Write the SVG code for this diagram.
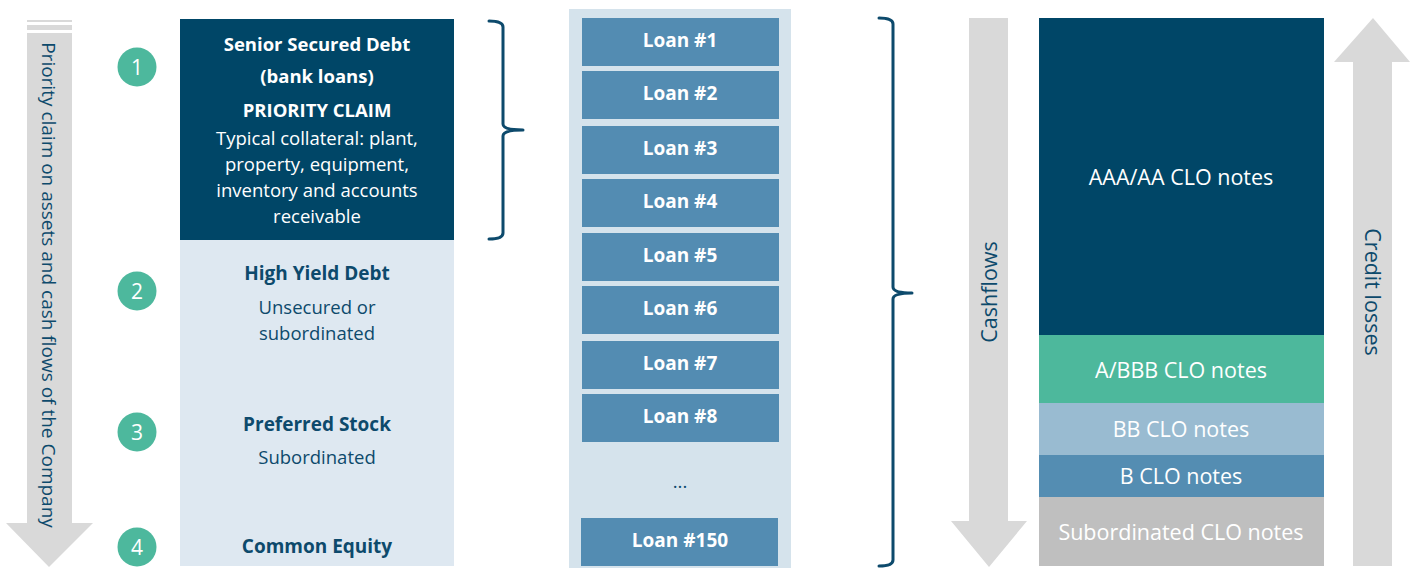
<svg xmlns="http://www.w3.org/2000/svg" width="1415" height="568" viewBox="0 0 1415 568">
<style>
text{font-family:"Open Sans","Noto Sans","Liberation Sans",sans-serif;}
.w{fill:#ffffff;}
.d{fill:#0d4a6c;}
.b{font-weight:bold;}
.t18{font-size:18.5px;}
.h{font-size:19px;}
.t19{font-size:19px;}
.t21{font-size:21px;}
.t22{font-size:21.5px;}
.c{text-anchor:middle;}
.arrow{fill:#d9d9d9;}
.loan{fill:#538cb2;}
.circ{fill:#4db89d;}
.brace{fill:none;stroke:#0d4a6c;stroke-width:3;stroke-linejoin:round;stroke-linecap:round;}
</style>
<rect width="1415" height="568" fill="#ffffff"/>

<g id="priority-arrow">
<rect x="27" y="20" width="45" height="2" class="arrow"/>
<rect x="27" y="25" width="45" height="5" class="arrow"/>
<polygon points="27,33 72,33 72,523 93,523 49,567 6,523 27,523" class="arrow"/>
<text class="d t19 c" transform="translate(42,285) rotate(90)">Priority claim on assets and cash flows of the Company</text>
</g>

<g id="circle-1"><circle cx="137" cy="67" r="19.5" class="circ"/><text x="137" y="74.5" class="w t21 c">1</text></g>
<g id="circle-2"><circle cx="137" cy="291" r="19.5" class="circ"/><text x="137" y="298.5" class="w t21 c">2</text></g>
<g id="circle-3"><circle cx="137" cy="432" r="19.5" class="circ"/><text x="137" y="439.5" class="w t21 c">3</text></g>
<g id="circle-4"><circle cx="137" cy="547" r="19.5" class="circ"/><text x="137" y="554.5" class="w t21 c">4</text></g>

<g id="senior-secured">
<rect x="180" y="19" width="274" height="221" fill="#004667"/>
<text x="317" y="51" class="w b t18 c">Senior Secured Debt</text>
<text x="317" y="83" class="w b t18 c">(bank loans)</text>
<text x="317" y="117" class="w b t18 c">PRIORITY CLAIM</text>
<text x="317" y="145" class="w t18 c">Typical collateral: plant,</text>
<text x="317" y="171" class="w t18 c">property, equipment,</text>
<text x="317" y="197" class="w t18 c">inventory and accounts</text>
<text x="317" y="223" class="w t18 c">receivable</text>
</g>

<g id="junior-capital">
<rect x="180" y="240" width="274" height="326" fill="#dee8f1"/>
<text x="317" y="280" class="d b h c">High Yield Debt</text>
<text x="317" y="314" class="d t18 c">Unsecured or</text>
<text x="317" y="340" class="d t18 c">subordinated</text>
<text x="317" y="431" class="d b h c">Preferred Stock</text>
<text x="317" y="464" class="d t18 c">Subordinated</text>
<text x="317" y="553" class="d b h c">Common Equity</text>
</g>

<g id="loan-pool">
<rect x="569" y="9" width="222" height="559" fill="#d5e3ec"/>
<g id="loan-1"><rect x="582" y="18" width="197" height="48" class="loan"/><text x="680" y="47" class="w b t19 c">Loan #1</text></g>
<g id="loan-2"><rect x="582" y="71" width="197" height="48" class="loan"/><text x="680" y="100" class="w b t19 c">Loan #2</text></g>
<g id="loan-3"><rect x="582" y="126" width="197" height="48" class="loan"/><text x="680" y="155" class="w b t19 c">Loan #3</text></g>
<g id="loan-4"><rect x="582" y="179" width="197" height="48" class="loan"/><text x="680" y="208" class="w b t19 c">Loan #4</text></g>
<g id="loan-5"><rect x="582" y="233" width="197" height="48" class="loan"/><text x="680" y="262" class="w b t19 c">Loan #5</text></g>
<g id="loan-6"><rect x="582" y="286" width="197" height="48" class="loan"/><text x="680" y="315" class="w b t19 c">Loan #6</text></g>
<g id="loan-7"><rect x="582" y="341" width="197" height="48" class="loan"/><text x="680" y="370" class="w b t19 c">Loan #7</text></g>
<g id="loan-8"><rect x="582" y="394" width="197" height="48" class="loan"/><text x="680" y="423" class="w b t19 c">Loan #8</text></g>
<text x="680" y="488" class="d t18 c">...</text>
<g id="loan-150"><rect x="581" y="518" width="197" height="48" class="loan"/><text x="680" y="547" class="w b t19 c">Loan #150</text></g>
</g>

<g id="connectors">
<path class="brace" d="M489,21 Q503,21 503,27 L503,124 Q503,130 523,130 Q503,130 503,136 L503,233 Q503,239 489,239"/>
<path class="brace" d="M879,18 Q893,18 893,24 L893,287 Q893,293 912,293 Q893,293 893,299 L893,560 Q893,566 879,566"/>
</g>

<g id="cashflows-arrow">
<polygon points="969,18 1008,18 1008,521 1027,521 989,567 951,521 969,521" class="arrow"/>
<text class="d t22 c" transform="translate(997,292) rotate(-90)">Cashflows</text>
</g>

<g id="credit-losses-arrow">
<polygon points="1373,18 1410,62 1392,62 1392,566 1353,566 1353,62 1334,62" class="arrow"/>
<text class="d t22 c" transform="translate(1365,292) rotate(90)">Credit losses</text>
</g>

<g id="clo-aaa"><rect x="1039" y="18" width="285" height="317" fill="#004667"/><text x="1181" y="185" class="w t22 c">AAA/AA CLO notes</text></g>
<g id="clo-a-bbb"><rect x="1039" y="335" width="285" height="68" fill="#4db89c"/><text x="1181" y="378" class="w t22 c">A/BBB CLO notes</text></g>
<g id="clo-bb"><rect x="1039" y="403" width="285" height="52" fill="#99bbd1"/><text x="1181" y="437" class="w t22 c">BB CLO notes</text></g>
<g id="clo-b"><rect x="1039" y="455" width="285" height="42" fill="#548db2"/><text x="1181" y="484" class="w t22 c">B CLO notes</text></g>
<g id="clo-sub"><rect x="1039" y="497" width="285" height="69" fill="#bfbfbf"/><text x="1181" y="540" class="w t22 c">Subordinated CLO notes</text></g>
</svg>
